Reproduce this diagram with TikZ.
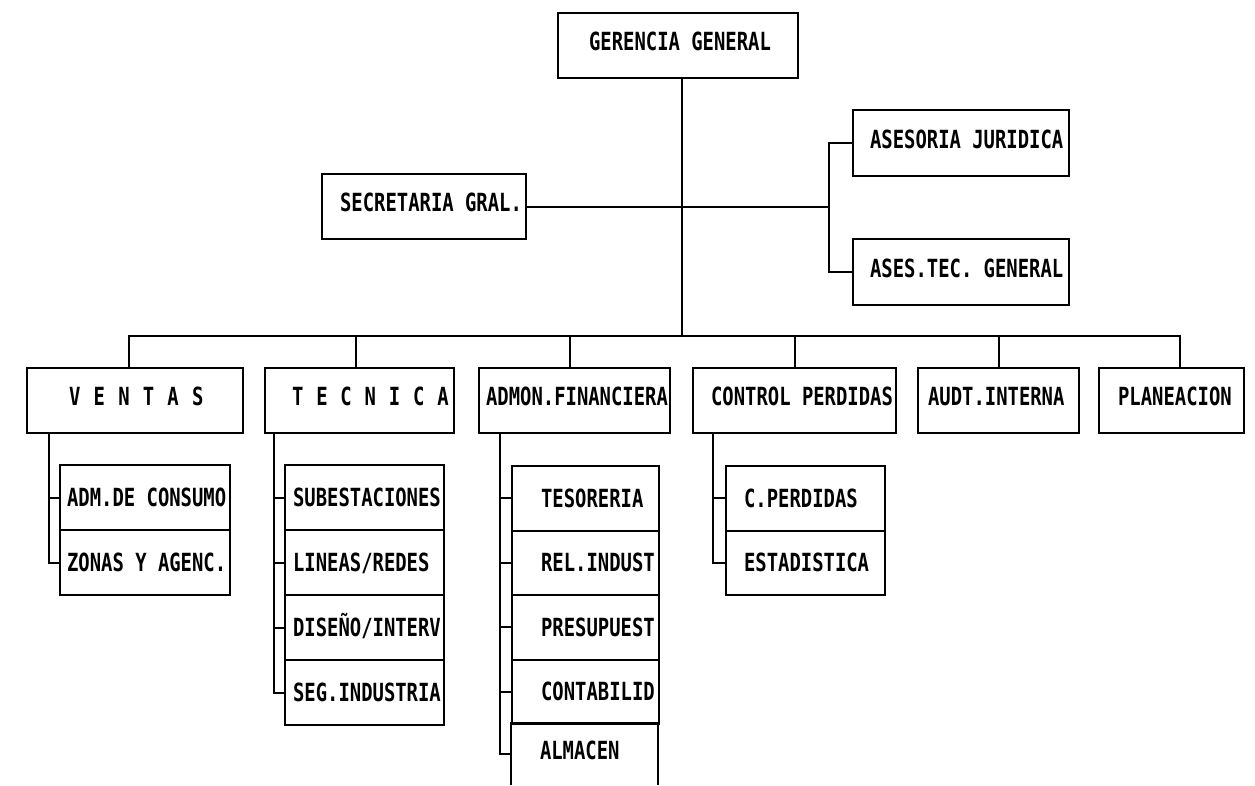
\documentclass[tikz,border=0pt]{standalone}
\usepackage{fontspec}
\newfontfamily\dotfont{DejaVu Sans Mono}[FakeStretch=0.755]
\usetikzlibrary{calc}
\tikzset{
  box/.style={draw, line width=2.2pt, inner sep=0pt, anchor=north west,
    font=\dotfont\bfseries\fontsize{25}{26}\selectfont,
    text height=18pt, text depth=0pt},
  up/.style={text height=18pt, text depth=8pt},
  link/.style={line width=2.2pt},
  edge3/.style={line width=2.2pt},
}
\newcommand\obox[8]{\node[box,#1,minimum width=#5pt,minimum height=#6pt] (#2) at (#3,#4) {\makebox[#5pt][l]{\hspace{#7pt}#8}};}
\newcommand\lsp[1]{\makebox[24.6pt][l]{#1}}
\newcommand\tsp[1]{\makebox[24.2pt][l]{#1}}
\begin{document}
\begin{tikzpicture}[x=1pt,y=-1pt]
\useasboundingbox (0,0) rectangle (1255,785);
\fill[white] (0,0) rectangle (1255,785);
% top level
\obox{up}{gg}{557}{12}{240}{65}{31}{GERENCIA GENERAL}
\obox{up}{sg}{321}{173}{204}{65}{18}{SECRETARIA GRAL.}
\obox{up}{aj}{852}{109}{216}{66}{17}{ASESORIA JURIDICA}
\obox{up}{at}{852}{238}{216}{66}{17}{ASES.TEC. GENERAL}
% second level
\obox{up}{ve}{26}{367}{216}{65}{42}{\lsp{V}\lsp{E}\lsp{N}\lsp{T}\lsp{A}S}
\obox{up}{te}{264}{367}{189}{65}{27}{\tsp{T}\tsp{E}\tsp{C}\tsp{N}\tsp{I}\tsp{C}A}
\obox{up}{af}{478}{367}{191}{65}{7}{ADMON.FINANCIERA}
\obox{up}{cp}{692}{367}{203}{65}{18}{CONTROL PERDIDAS}
\obox{up}{ai}{917}{367}{161}{65}{10}{AUDT.INTERNA}
\obox{up}{pl}{1098}{367}{145}{65}{19}{PLANEACION}
% third level
\obox{}{adm}{59}{464}{170}{65}{7}{ADM.DE CONSUMO}
\obox{}{zon}{59}{529}{170}{65}{7}{ZONAS Y AGENC.}
\obox{}{sub}{284}{464}{159}{65}{8}{SUBESTACIONES}
\obox{}{lin}{284}{529}{159}{65}{8}{LINEAS/REDES}
\obox{}{dis}{284}{594}{159}{65}{8}{DISEÑO/INTERV}
\obox{}{seg}{284}{659}{159}{65}{8}{SEG.INDUSTRIA}
\obox{}{tes}{511}{465}{147}{64.5}{29}{TESORERIA}
\obox{}{rel}{511}{529.5}{147}{64.5}{29}{REL.INDUST}
\obox{}{pre}{511}{594}{147}{64.5}{29}{PRESUPUEST}
\obox{}{con}{511}{658.5}{147}{64.5}{29}{CONTABILID}
\obox{draw=none,outer sep=0pt,up}{alm}{511}{723}{147}{62}{29}{ALMACEN}
\draw[edge3] (alm.south west) -- (alm.north west) -- (alm.north east) -- (alm.south east);
\obox{}{cpe}{725}{465}{159}{64.5}{18}{C.PERDIDAS}
\obox{}{est}{725}{529.5}{159}{64.5}{18}{ESTADISTICA}
% connectors
\coordinate (trunk) at (682,336);
\coordinate (ramp) at (829,207);
\draw[link] (trunk |- gg.south) -- (trunk);
\draw[link] (sg.east) -- (sg.east -| ramp);
\draw[link] (aj.west) -- (aj.west -| ramp) -- (at.west -| ramp) -- (at.west);
\draw[link] ([xshift=-6pt]ve.north) -- ([xshift=-6pt]ve.north |- trunk)
  -- ([xshift=8pt]pl.north |- trunk) -- ([xshift=8pt]pl.north);
\foreach \n/\s in {te/-4, af/-5, cp/0, ai/0}
  \draw[link] ([xshift=\s pt]\n.north) -- ([xshift=\s pt]\n.north |- trunk);
% sub branches
\coordinate (vx) at ([xshift=23pt]ve.south west);
\draw[link] (vx) |- (zon.west);
\draw[link] (adm.west) -- (adm.west -| vx);
\coordinate (tx) at ([xshift=10pt]te.south west);
\draw[link] (tx) |- (seg.west);
\foreach \n in {sub,lin,dis} \draw[link] (\n.west) -- (\n.west -| tx);
\coordinate (ax) at ([xshift=22pt]af.south west);
\draw[link] (ax) |- (alm.west);
\foreach \n in {tes,rel,pre,con} \draw[link] (\n.west) -- (\n.west -| ax);
\coordinate (cx) at ([xshift=21pt]cp.south west);
\draw[link] (cx) |- (est.west);
\draw[link] (cpe.west) -- (cpe.west -| cx);
\end{tikzpicture}
\end{document}
